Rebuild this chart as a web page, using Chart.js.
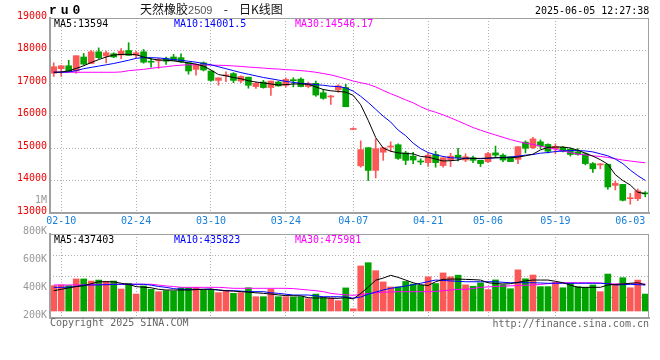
<!DOCTYPE html>
<html><head><meta charset="utf-8">
<script src="https://cdn.jsdelivr.net/npm/chart.js@4/dist/chart.umd.min.js"></script>
<style>
html,body{margin:0;padding:0;background:#fff;}
#wrap{position:relative;width:660px;height:360px;overflow:hidden;background:#fff;}
canvas{position:absolute;left:0;top:0;}
.t{position:absolute;white-space:pre;line-height:10px;font-family:"DejaVu Sans Mono",monospace;font-size:10px;}
</style></head><body>
<div id="wrap">
<canvas id="main" width="660" height="360"></canvas>
<canvas id="vol" width="660" height="360"></canvas>
<div class="t" style="left:49px;top:4px;font:bold 13px 'Liberation Mono';line-height:13px;letter-spacing:4px;color:#000;">ru0</div>
<div class="t" style="left:140px;top:3px;font-family:'Noto Sans CJK SC';font-size:12px;line-height:12px;word-spacing:8.5px;color:#111;">天然橡胶<span style="font-family:'Liberation Sans';font-size:11px;color:#555;word-spacing:0;">2509</span> - 日K线图</div>
<div class="t" style="left:535px;top:6px;color:#000;">2025-06-05 12:27:38</div>
<div class="t" style="left:54px;top:19px;color:#000;">MA5:13594</div>
<div class="t" style="left:174px;top:19px;color:#0000ff;">MA10:14001.5</div>
<div class="t" style="left:295px;top:19px;color:#ff00ff;">MA30:14546.17</div>
<div class="t" style="left:35px;top:195px;color:#999;">1M</div>
<div class="t" style="left:54px;top:235px;color:#000;">MA5:437403</div>
<div class="t" style="left:174px;top:235px;color:#0000ff;">MA10:435823</div>
<div class="t" style="left:295px;top:235px;color:#ff00ff;">MA30:475981</div>
<div class="t" style="left:50px;top:318px;color:#666;">Copyright 2025 SINA.COM</div>
<div class="t" style="right:11px;top:319px;color:#666;">http://finance.sina.com.cn</div>
</div>
<script>
// ---------------- data ----------------
const dates = ['02-07','02-10','02-11','02-12','02-13','02-14','02-17','02-18','02-19','02-20','02-21','02-24','02-25','02-26','02-27','02-28',
'03-03','03-04','03-05','03-06','03-07','03-10','03-11','03-12','03-13','03-14','03-17','03-18','03-19','03-20','03-21','03-24','03-25','03-26','03-27','03-28','03-31',
'04-01','04-02','04-03','04-07','04-08','04-09','04-10','04-11','04-14','04-15','04-16','04-17','04-18','04-21','04-22','04-23','04-24','04-25','04-28','04-29','04-30',
'05-06','05-07','05-08','05-09','05-12','05-13','05-14','05-15','05-16','05-19','05-20','05-21','05-22','05-23','05-26','05-27','05-28','05-29','05-30',
'06-03','06-04','06-05'];
const tickDates = ['02-10','02-24','03-10','03-24','04-07','04-21','05-06','05-19','06-03'];
const priceTicks = [13000,14000,15000,16000,17000,18000,19000];
const volTicks = [200000,400000,600000,800000];

const opens = [17300,17440,17530,17370,17800,17600,17960,17830,17900,17860,
18000,17860,17960,17670,17680,17750,17800,17780,17620,17420,
17620,17370,17080,17220,17290,17060,17180,16890,17030,16860,
17030,16930,17090,17120,16890,16990,16700,16570,16790,16860,
15570,14450,15010,14310,14870,15030,15100,14850,14750,14590,
14550,14800,14460,14630,14780,14630,14700,14620,14580,14850,
14780,14730,14650,15180,15010,15190,15110,14980,15020,14960,
14880,14820,14520,14480,14500,13850,13880,13440,13440,13610];
const closes = [17500,17530,17370,17840,17580,17960,17780,17930,17800,17980,
17850,17930,17640,17640,17710,17670,17690,17650,17370,17570,
17400,17080,17160,17250,17080,17200,16930,16990,16860,17060,
16910,17110,17070,16890,16990,16630,16530,16590,16910,16270,
15590,14950,14310,14980,15010,15050,14680,14620,14630,14570,
14780,14550,14700,14750,14700,14730,14620,14520,14830,14780,
14630,14580,15040,14990,15280,15060,14900,15050,14900,14800,
14800,14520,14360,14500,13800,13910,13390,13470,13680,13590];
const highs = [17620,17540,17700,17840,17910,18000,18080,17980,17930,18060,
18240,17980,18030,17760,17760,17800,17880,17900,17620,17580,
17650,17370,17160,17340,17320,17220,17180,17030,17080,17060,
17060,17160,17160,17160,17030,17060,16800,16620,16950,16960,
15620,15220,15010,15280,15020,15190,15130,14900,14870,14670,
14840,14900,14700,14840,14990,14820,14750,14620,14870,15060,
14820,14730,15040,15220,15330,15250,15130,15130,15040,15000,
14980,14850,14550,14520,14500,13980,13880,13600,13740,13660];
const lows = [17200,17200,17350,17300,17550,17600,17750,17620,17780,17750,
17850,17780,17610,17490,17450,17570,17690,17630,17270,17240,
17370,17060,16930,17040,17010,17010,16840,16830,16840,16620,
16900,16870,16880,16880,16850,16590,16500,16340,16710,16270,
15560,14410,14000,14080,14620,14890,14650,14490,14520,14490,
14430,14410,14410,14430,14600,14580,14550,14430,14550,14700,
14580,14580,14520,14850,14980,14980,14850,14820,14880,14750,
14780,14480,14250,14360,13730,13710,13370,13270,13380,13500];

const ma5 = [17330,17340,17370,17450,17530,17630,17720,17800,17860,17880,
17880,17870,17800,17740,17710,17700,17680,17650,17620,17580,
17520,17400,17260,17220,17170,17130,17070,17030,17000,16970,
16940,16950,16970,16970,16960,16880,16800,16760,16740,16720,
16620,16330,15850,15320,15000,14900,14850,14830,14820,14740,
14720,14660,14600,14610,14630,14690,14680,14680,14690,14700,
14700,14700,14720,14760,14810,14940,15020,15030,15030,15000,
14930,14840,14750,14640,14500,14180,14000,13860,13640,13594];
const ma10 = [17330,17330,17340,17380,17440,17480,17520,17560,17600,17650,
17700,17760,17780,17780,17770,17750,17720,17700,17670,17640,
17600,17560,17500,17440,17380,17320,17270,17220,17170,17130,
17090,17050,17020,16990,16970,16950,16930,16900,16890,16850,
16750,16590,16400,16190,15980,15800,15550,15380,15150,14980,
14860,14790,14740,14700,14690,14680,14680,14670,14680,14700,
14710,14720,14750,14780,14800,14840,14860,14890,14910,14920,
14920,14910,14880,14820,14760,14660,14520,14320,14150,14001.5];
const ma30 = [17330,17330,17330,17330,17330,17330,17330,17330,17330,17340,
17380,17400,17420,17450,17480,17500,17530,17550,17560,17560,
17555,17550,17545,17540,17525,17510,17490,17475,17460,17440,
17430,17410,17400,17380,17360,17330,17290,17250,17190,17130,
17060,17010,16960,16880,16770,16670,16580,16480,16390,16270,
16170,16100,16020,15930,15830,15730,15630,15550,15470,15400,
15330,15260,15200,15150,15110,15060,15010,14960,14910,14860,
14810,14790,14760,14740,14710,14670,14630,14600,14570,14546.17];

const volumes = [431000,436000,431000,479000,479000,464000,471000,462000,464000,407000,
448000,371000,429000,405000,388000,395000,393000,416000,416000,419000,
400000,405000,381000,393000,376000,381000,416000,352000,352000,405000,
352000,352000,350000,352000,338000,371000,344000,343000,324000,415000,
266000,572000,595000,538000,458000,422000,422000,461000,443000,434000,
494000,446000,522000,494000,506000,437000,427000,451000,403000,472000,
437000,409000,544000,480000,507000,424000,424000,455000,416000,448000,
424000,419000,436000,388000,514000,436000,488000,416000,471000,371000];
const volMa5 = [395000,405000,415000,425000,430000,445000,459000,459000,459000,448000,
440000,424000,420000,416000,405000,400000,400000,400000,400000,403000,
405000,407000,400000,395000,392000,388000,385000,380000,376000,371000,
365000,360000,359000,358000,345000,342000,345000,341000,340000,345000,
336000,375000,420000,470000,485000,505000,490000,471000,452000,438000,
432000,459000,476000,478000,478000,476000,474000,471000,452000,446000,
443000,445000,455000,465000,471000,471000,471000,462000,452000,435000,
419000,419000,419000,419000,436000,440000,443000,448000,452000,437403];
const volMa10 = [419000,419000,420000,425000,436000,436000,436000,438000,440000,441000,
441000,441000,441000,435000,425000,419000,410000,405000,405000,405000,
405000,405000,400000,395000,395000,392000,388000,388000,388000,380000,
376000,370000,364000,364000,364000,358000,352000,352000,352000,350000,
341000,350000,370000,385000,400000,412000,420000,429000,438000,448000,
460000,471000,468000,465000,462000,459000,459000,459000,459000,459000,
455000,452000,452000,452000,452000,450000,448000,448000,448000,448000,
448000,448000,448000,448000,445000,436000,438000,441000,438000,435823];
const volMa30 = [436000,436000,436000,436000,436000,436000,441000,441000,441000,441000,
441000,441000,441000,441000,435000,429000,425000,419000,419000,419000,
419000,419000,419000,416000,412000,412000,412000,412000,412000,412000,
412000,412000,410000,405000,400000,395000,388000,376000,370000,366000,
362000,368000,375000,380000,384000,386000,388000,388000,388000,388000,
388000,390000,395000,400000,405000,405000,410000,419000,422000,425000,
428000,430000,432000,434000,436000,440000,445000,450000,452000,452000,
452000,452000,452000,450000,445000,443000,443000,443000,443000,443000];

// ---------------- styles ----------------
const UP = '#fb5858', DOWN = '#00a300';
const GRID = '#b0b0b0', FRAME = '#a0a0a0';
const MONO = 'DejaVu Sans Mono';
const dirColor = closes.map((c, i) => c >= opens[i] ? UP : DOWN);

const framePlugin = {
  id: 'frame',
  afterDraw(chart) {
    const {ctx, chartArea: a} = chart;
    ctx.save();
    ctx.strokeStyle = FRAME;
    ctx.lineWidth = 1;
    ctx.strokeRect(Math.round(a.left) + 0.5, Math.round(a.top) + 0.5,
                   Math.round(a.right - a.left) - 1, Math.round(a.bottom - a.top));
    ctx.restore();
  }
};

function xScale(showLabels, h) {
  return {
    type: 'category',
    offset: true,
    grid: {
      offset: false, drawTicks: false, lineWidth: 1,
      color: c => (c.tick && dates[c.tick.value] === '06-03') ? 'rgba(0,0,0,0)' : GRID
    },
    border: {display: true, color: FRAME, width: 2, dash: [1, 2]},
    ticks: {display: showLabels, autoSkip: false, maxRotation: 0, minRotation: 0,
            color: '#1a80d8', font: {family: MONO, size: 10}, padding: 2},
    afterBuildTicks: s => { s.ticks = tickDates.map(d => ({value: dates.indexOf(d)})); },
    afterFit: s => { s.height = h; }
  };
}

const lineDs = (label, data, color) => ({
  type: 'line', label, data, borderColor: color, borderWidth: 1,
  pointRadius: 0, tension: 0, fill: false, order: 0
});

new Chart(document.getElementById('main'), {
  type: 'bar',
  data: {
    labels: dates,
    datasets: [
      lineDs('MA5', ma5, '#000000'),
      lineDs('MA10', ma10, '#0000ff'),
      lineDs('MA30', ma30, '#ff00ff'),
      {label: 'body', data: opens.map((o, i) => [o, closes[i]]), backgroundColor: dirColor,
       barThickness: 6, minBarLength: 1, grouped: false, order: 1},
      {label: 'wick', data: lows.map((l, i) => [l, highs[i]]), backgroundColor: dirColor,
       barThickness: 1, grouped: false, order: 2}
    ]
  },
  options: {
    animation: false, responsive: false, events: [],
    layout: {padding: {top: 18, right: 11, left: 0, bottom: 0}},
    plugins: {legend: {display: false}, tooltip: {enabled: false}},
    scales: {
      x: xScale(true, 147),
      y: {
        min: 13000, max: 19000,
        afterBuildTicks: s => { s.ticks = priceTicks.map(v => ({value: v})); },
        ticks: {color: '#ee0000', font: {family: MONO, size: 10}, padding: 3, labelOffset: -2,
                callback: v => String(v)},
        grid: {color: GRID, drawTicks: false},
        border: {display: true, color: FRAME, width: 2, dash: [1, 2]},
        afterFit: s => { s.width = 50; }
      }
    }
  },
  plugins: [framePlugin]
});

new Chart(document.getElementById('vol'), {
  type: 'bar',
  data: {
    labels: dates,
    datasets: [
      lineDs('MA5', volMa5, '#000000'),
      lineDs('MA10', volMa10, '#0000ff'),
      lineDs('MA30', volMa30, '#ff00ff'),
      {label: 'vol', data: volumes, base: 250000, backgroundColor: dirColor,
       barThickness: 6, grouped: false, order: 1}
    ]
  },
  options: {
    animation: false, responsive: false, events: [],
    layout: {padding: {top: 234, right: 11, left: 0, bottom: 0}},
    plugins: {legend: {display: false}, tooltip: {enabled: false}},
    scales: {
      x: xScale(false, 42),
      y: {
        min: 200000, max: 800000,
        afterBuildTicks: s => { s.ticks = volTicks.map(v => ({value: v})); },
        ticks: {color: '#999999', font: {family: MONO, size: 10}, padding: 3, labelOffset: -3,
                callback: v => (v / 1000) + 'K'},
        grid: {drawOnChartArea: false, drawTicks: false},
        border: {display: true, color: FRAME, width: 2},
        afterFit: s => { s.width = 50; }
      },
      q: {
        position: 'right', min: 0, max: 4,
        ticks: {display: false, stepSize: 1},
        grid: {color: GRID, drawTicks: false},
        border: {display: false, dash: [1, 2]},
        afterFit: s => { s.width = 0; }
      }
    }
  },
  plugins: [framePlugin]
});
</script>
</body></html>
